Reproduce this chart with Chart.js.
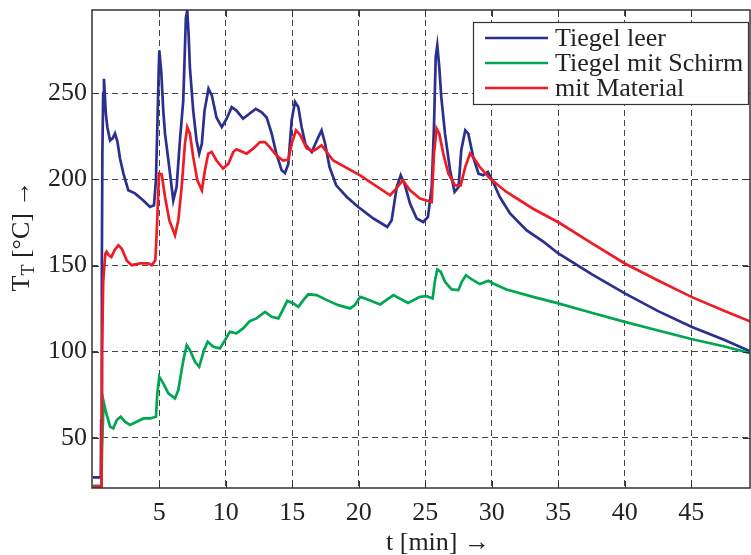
<!DOCTYPE html>
<html>
<head>
<meta charset="utf-8">
<script src="https://cdn.jsdelivr.net/npm/chart.js@4.4.1/dist/chart.umd.min.js"></script>
<style>
html, body { margin: 0; padding: 0; background: #fff; }
</style>
</head>
<body>
<canvas id="tempchart" width="751" height="555"></canvas>
<script>
// Tiegel leer (blue)
var tLeer = [0, 0.6, 0.63, 0.68, 0.72, 0.78, 0.84, 0.9, 0.98, 1.1, 1.3, 1.5, 1.67, 1.85, 2.05, 2.3, 2.67, 3.17, 3.8, 4.3, 4.6, 4.75, 4.85, 4.95, 5.0, 5.08, 5.15, 5.3, 5.43, 5.75, 6.05, 6.3, 6.55, 6.8, 7.0, 7.1, 7.2, 7.3, 7.55, 7.8, 8.0, 8.2, 8.4, 8.7, 8.95, 9.3, 9.7, 10.07, 10.44, 10.8, 11.3, 11.8, 12.25, 12.7, 13.07, 13.45, 13.8, 14.2, 14.45, 14.7, 14.95, 15.2, 15.45, 15.7, 16.0, 16.46, 16.96, 17.2, 17.46, 17.8, 18.3, 19.1, 19.96, 21.1, 22.14, 22.47, 22.85, 23.15, 23.47, 23.85, 24.35, 24.85, 25.2, 25.48, 25.65, 25.78, 25.9, 26.05, 26.2, 26.48, 26.86, 27.2, 27.5, 27.7, 28.0, 28.23, 28.6, 29.0, 29.36, 29.7, 30.1, 30.6, 31.37, 32.6, 33.9, 35.0, 37.5, 40.0, 42.5, 45.0, 47.5, 49.5];
var TLeer = [27, 27, 60, 150, 215, 250, 258.5, 250, 238, 230, 222.6, 224, 226.7, 222, 212, 203.5, 193.7, 191.9, 187.8, 184, 185, 200, 230, 262, 274.9, 268, 262, 240, 226.6, 207, 187.8, 195.6, 222.6, 245.8, 294, 298, 285, 265, 240, 222.6, 215, 220.8, 240, 252.7, 248.8, 236, 230.4, 235.4, 242, 240, 235.3, 238.3, 241, 239, 236, 226.6, 215, 205.3, 203.7, 209, 234.3, 245, 242, 230.4, 220, 215.9, 224.6, 228.5, 221, 207.2, 196.6, 189.8, 184, 177.3, 172.4, 176.3, 195.6, 202.4, 196.6, 186, 177.3, 175.3, 178.2, 195.6, 230.4, 271, 277.8, 265.2, 247.8, 226.6, 205.3, 192.7, 195.6, 216.9, 228.5, 226.6, 213, 203.4, 202.4, 204.3, 198.5, 189.8, 180.2, 170.5, 163.7, 157, 145, 133.8, 123.5, 114.4, 106.7, 99.9];

// Tiegel mit Schirm (green)
var tSchirm = [0, 0.64, 0.7, 0.8, 0.84, 0.95, 1.3, 1.54, 1.8, 2.1, 2.42, 2.8, 3.3, 3.8, 4.3, 4.75, 4.85, 5.0, 5.3, 5.68, 6.18, 6.43, 6.68, 6.86, 7.06, 7.3, 7.68, 8.0, 8.36, 8.64, 9.06, 9.56, 9.94, 10.3, 10.8, 11.3, 11.8, 12.3, 12.95, 13.45, 13.95, 14.28, 14.62, 15.08, 15.45, 15.83, 16.2, 16.83, 17.6, 18.46, 19.34, 19.7, 20.1, 20.47, 21.6, 22.6, 23.7, 24.6, 25.1, 25.55, 25.73, 25.9, 26.16, 26.48, 26.98, 27.48, 27.74, 28.06, 28.5, 29.1, 29.74, 30.1, 31.1, 33.1, 35.0, 37.5, 40.0, 42.5, 45.0, 47.5, 49.5];
var TSchirm = [22, 22, 45, 68, 70, 66, 56.4, 55.4, 60.3, 62.2, 59.3, 57.4, 59.3, 61.2, 61.2, 62.2, 75.8, 85.4, 81.6, 75.8, 72.9, 77.7, 89.3, 97, 103.8, 100.9, 94.1, 91.2, 100.9, 105.7, 102.8, 101.9, 106.7, 111.5, 110.6, 113.5, 117.7, 119.3, 123.1, 120.2, 119.3, 124.1, 129.5, 128, 126, 129.9, 133.3, 132.8, 129.9, 127, 125.1, 127, 131.8, 130.9, 127.4, 132.8, 128.3, 131.8, 132.2, 130.9, 141.5, 147.7, 146.3, 140.5, 136.1, 135.7, 140.5, 144.4, 141.9, 139.2, 141.1, 139.6, 136.1, 131.8, 128, 122.6, 117.3, 112.3, 107.3, 103, 99];

// mit Material (red)
var tMaterial = [0, 0.64, 0.66, 0.7, 0.78, 0.88, 0.95, 1.04, 1.2, 1.4, 1.65, 1.92, 2.17, 2.55, 2.92, 3.55, 4.17, 4.43, 4.7, 4.78, 4.85, 4.98, 5.18, 5.43, 5.75, 6.18, 6.43, 6.68, 6.93, 7.1, 7.3, 7.55, 7.86, 8.2, 8.43, 8.68, 8.94, 9.3, 9.8, 10.2, 10.56, 10.8, 11.57, 12.07, 12.57, 12.95, 13.3, 13.8, 14.3, 14.7, 14.95, 15.28, 15.58, 16.08, 16.58, 17.2, 18.08, 20.1, 22.35, 22.7, 23.3, 23.85, 24.6, 25.48, 25.65, 25.85, 26.05, 26.35, 26.73, 27.23, 27.66, 28.0, 28.36, 28.6, 29.1, 29.86, 31.1, 33.1, 35.1, 37.5, 40.0, 42.5, 45.0, 47.5, 49.5];
var TMaterial = [21.6, 21.6, 40, 101, 140, 151, 157, 158, 156, 155, 159, 161.8, 159.9, 153, 150.2, 151.2, 151.2, 150.2, 153, 165, 178, 203.4, 203, 189.8, 176.3, 167.6, 176.3, 195.6, 220.8, 230.4, 226.6, 213, 199.5, 193.7, 205.3, 215, 215.9, 211, 206.3, 209.2, 215.9, 217.5, 215, 218, 221.7, 221.7, 218.8, 214, 211, 211.5, 220.8, 228.5, 226, 218, 216.5, 219.8, 211, 202.4, 190.8, 193.7, 199.5, 193.7, 188.9, 186.9, 215, 229.5, 226.6, 215, 203.4, 196.6, 196.6, 207.2, 215, 213, 207.2, 200.5, 192.7, 183, 174.7, 163, 151.2, 141.3, 131.8, 123.6, 117.3];

var seriesNames = ['Tiegel leer', 'Tiegel mit Schirm', 'mit Material'];
var seriesColors = ['#2b2f8e', '#00a651', '#ee1c25'];
var xTicks = [5, 10, 15, 20, 25, 30, 35, 40, 45];
var yTicks = [50, 100, 150, 200, 250];
var xTitle = 't [min] \u2192';

var fontFamily = "'Liberation Serif', 'DejaVu Serif', serif";
var textColor = '#222';
var frameColor = '#333';

function toPoints(xs, ys) {
    return xs.map(function (x, i) { return { x: x, y: ys[i] }; });
}

function makeDataset(idx, xs, ys, order) {
    return {
        label: seriesNames[idx],
        data: toPoints(xs, ys),
        borderColor: seriesColors[idx],
        backgroundColor: seriesColors[idx],
        borderWidth: 2.7,
        pointRadius: 0,
        tension: 0,
        fill: false,
        order: order
    };
}

// frame, inward ticks, legend box and axis titles
var decorPlugin = {
    id: 'decor',
    afterDatasetsDraw: function (chart) {
        var ctx = chart.ctx;
        var a = chart.chartArea;
        var xs = chart.scales.x, ys = chart.scales.y;
        ctx.save();
        ctx.strokeStyle = frameColor;
        ctx.lineWidth = 1.5;
        ctx.setLineDash([]);
        ctx.strokeRect(a.left, a.top, a.right - a.left, a.bottom - a.top);

        var tl = 7;
        ctx.lineWidth = 1;
        ctx.beginPath();
        xTicks.forEach(function (v) {
            var px = Math.round(xs.getPixelForValue(v)) + 0.5;
            ctx.moveTo(px, a.bottom); ctx.lineTo(px, a.bottom - tl);
            ctx.moveTo(px, a.top); ctx.lineTo(px, a.top + tl);
        });
        yTicks.forEach(function (v) {
            var py = Math.round(ys.getPixelForValue(v)) + 0.5;
            ctx.moveTo(a.left, py); ctx.lineTo(a.left + tl, py);
            ctx.moveTo(a.right, py); ctx.lineTo(a.right - tl, py);
        });
        ctx.stroke();

        // legend
        var lx = 473.5, ly = 22.5, lw = 275, lh = 82;
        ctx.fillStyle = '#fff';
        ctx.fillRect(lx, ly, lw, lh);
        ctx.strokeStyle = frameColor;
        ctx.lineWidth = 1.2;
        ctx.strokeRect(lx, ly, lw, lh);
        ctx.font = '26px ' + fontFamily;
        ctx.textAlign = 'left';
        ctx.textBaseline = 'alphabetic';
        var rowY = [38, 63, 88];
        seriesNames.forEach(function (name, i) {
            ctx.strokeStyle = seriesColors[i];
            ctx.lineWidth = 2.7;
            ctx.beginPath();
            ctx.moveTo(485, rowY[i]);
            ctx.lineTo(548, rowY[i]);
            ctx.stroke();
            ctx.fillStyle = textColor;
            ctx.fillText(name, 555, rowY[i] + 8);
        });

        // x axis title
        ctx.fillStyle = textColor;
        ctx.font = '26px ' + fontFamily;
        ctx.textAlign = 'center';
        ctx.fillText(xTitle, 438, 550);

        // y axis title with subscript
        ctx.translate(29, 236);
        ctx.rotate(-Math.PI / 2);
        ctx.textAlign = 'left';
        ctx.font = '26px ' + fontFamily;
        var w1 = ctx.measureText('T').width;
        var rest = ' [\u00b0C] \u2192';
        var w3 = ctx.measureText(rest).width;
        ctx.font = '18px ' + fontFamily;
        var w2 = ctx.measureText('T').width;
        var x0 = -(w1 + w2 + w3) / 2;
        ctx.font = '26px ' + fontFamily;
        ctx.fillText('T', x0, 0);
        ctx.font = '18px ' + fontFamily;
        ctx.fillText('T', x0 + w1, 5);
        ctx.font = '26px ' + fontFamily;
        ctx.fillText(rest, x0 + w1 + w2, 0);
        ctx.restore();
    }
};

var ctx = document.getElementById('tempchart');
var tempChart = new Chart(ctx, {
    type: 'line',
    data: {
        datasets: [
            makeDataset(0, tLeer, TLeer, 3),
            makeDataset(1, tSchirm, TSchirm, 2),
            makeDataset(2, tMaterial, TMaterial, 1)
        ]
    },
    options: {
        responsive: false,
        animation: false,
        devicePixelRatio: 1,
        layout: { padding: { top: 10, right: 1, left: 0, bottom: 0 }, autoPadding: false },
        plugins: { legend: { display: false }, tooltip: { enabled: false } },
        scales: {
            x: {
                type: 'linear',
                min: -0.06,
                max: 49.41,
                afterBuildTicks: function (scale) {
                    scale.ticks = xTicks.map(function (v) { return { value: v }; });
                },
                afterFit: function (scale) {
                    scale.height = 67;
                    scale.paddingLeft = 0;
                    scale.paddingRight = 0;
                },
                grid: { color: '#444', lineWidth: 1, drawTicks: false },
                border: { display: false, dash: [6, 4] },
                ticks: {
                    padding: 10,
                    color: textColor,
                    font: { family: fontFamily, size: 26 },
                    maxRotation: 0,
                    autoSkip: false
                }
            },
            y: {
                type: 'linear',
                min: 20.8,
                max: 298.4,
                afterBuildTicks: function (scale) {
                    scale.ticks = yTicks.map(function (v) { return { value: v }; });
                },
                afterFit: function (scale) {
                    scale.width = 92;
                    scale.paddingTop = 0;
                    scale.paddingBottom = 0;
                },
                grid: { color: '#444', lineWidth: 1, drawTicks: false },
                border: { display: false, dash: [6, 4] },
                ticks: {
                    padding: 5,
                    color: textColor,
                    font: { family: fontFamily, size: 26 },
                    autoSkip: false
                }
            }
        }
    },
    plugins: [decorPlugin]
});
</script>
</body>
</html>
